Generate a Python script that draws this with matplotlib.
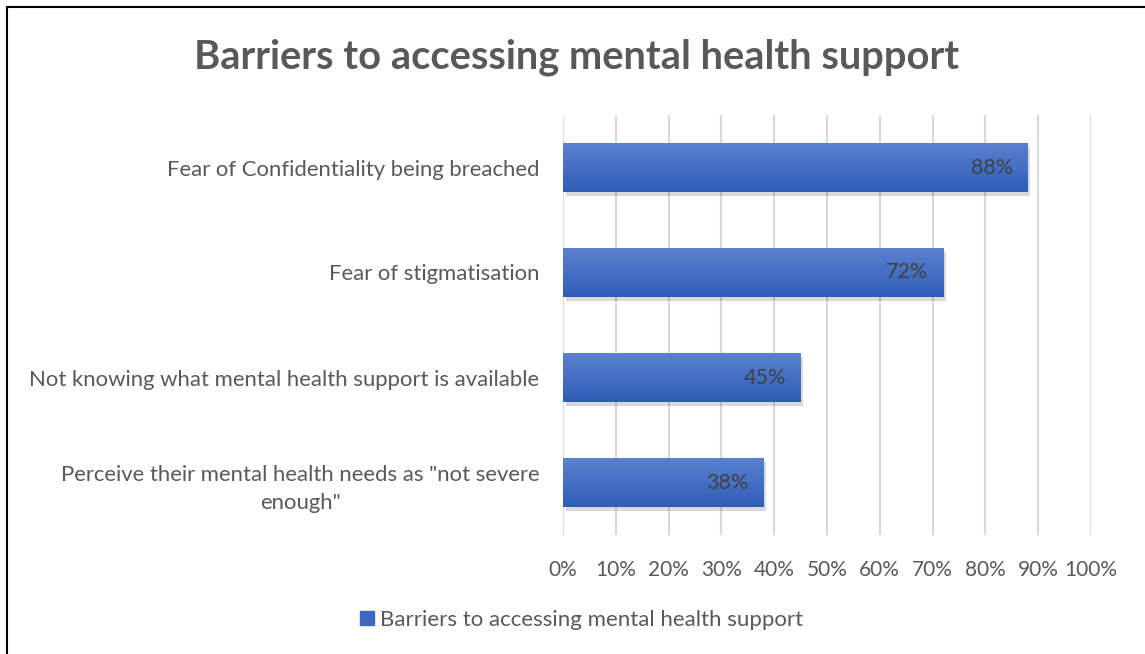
import matplotlib
matplotlib.use("Agg")
import matplotlib.pyplot as plt
import matplotlib.patches as mpatches
import matplotlib.patheffects as pe
import numpy as np

plt.rcParams['font.family'] = ['Lato', 'DejaVu Sans']

# Survey results (share of respondents)
categories = [
    'Fear of Confidentiality being breached',
    'Fear of stigmatisation',
    'Not knowing what mental health support is available',
    'Perceive their mental health needs as "not severe\nenough"',
]
values = [88, 72, 45, 38]
series_name = 'Barriers to accessing mental health support'
title = 'Barriers to accessing mental health support'

TEXT = '#595959'
BAR_TOP = '#5b82d0'
BAR_BOT = '#2f5db8'

fig = plt.figure(figsize=(11.45, 6.54), dpi=100)
ax = fig.add_axes([563 / 1145, 1 - 535 / 654, (1091 - 563) / 1145, (535 - 115) / 654])

# outer chart border (runs off the right and bottom edges)
fig.add_artist(mpatches.Rectangle((7 / 1145, -0.01), 1.2, 1 - 7 / 654 + 0.01,
                                  transform=fig.transFigure, fill=False,
                                  edgecolor='black', linewidth=1.5))

y = np.arange(len(categories))
bars = ax.barh(y, values, height=0.47, color=BAR_BOT, zorder=2,
               path_effects=[pe.SimplePatchShadow(offset=(2, -3), shadow_rgbFace='#000000', alpha=0.15),
                             pe.Normal()])

# vertical gradient on each bar
grad = np.linspace(0, 1, 100).reshape(-1, 1)
cmap = matplotlib.colors.LinearSegmentedColormap.from_list('barfill', [BAR_TOP, BAR_BOT])
for b in bars:
    x0, y0 = b.get_x(), b.get_y()
    w, h = b.get_width(), b.get_height()
    im = ax.imshow(grad, cmap=cmap, aspect='auto', extent=(x0, x0 + w, y0 + h, y0),
                   origin='upper', zorder=3)
    im.set_clip_path(b)

for yi, v in zip(y, values):
    ax.text(v - 2.8, yi, f'{v}%', ha='right', va='center', fontsize=15.5,
            color='#404040', zorder=4)

ax.set_xlim(0, 100)
ax.set_ylim(len(categories) - 0.5, -0.5)
ax.set_xticks(np.arange(0, 101, 10))
ax.set_xticklabels([f'{t}%' for t in range(0, 101, 10)], fontsize=15)
ax.set_yticks(y)
ax.set_yticklabels(categories, multialignment='center', linespacing=1.55, fontsize=15.9)
ax.tick_params(axis='both', length=0, labelcolor=TEXT)
ax.tick_params(axis='x', pad=18)
ax.tick_params(axis='y', pad=17)
ax.grid(axis='x', color='#d9d9d9', linewidth=1.5, zorder=0)
ax.set_axisbelow(True)
for s in ax.spines.values():
    s.set_visible(False)

fig.text(577 / 1145, 1 - 57 / 654, title, ha='center', va='center',
         fontsize=28.7, fontweight='bold', color=TEXT)

handle = mpatches.Patch(color='#3d68c2', label=series_name)
fig.legend(handles=[handle], loc='center', bbox_to_anchor=(582 / 1145, 1 - 620 / 654),
           frameon=False, fontsize=16, labelcolor=TEXT, handlelength=0.6,
           handleheight=0.6, handletextpad=0.3)

fig.savefig('out.png', dpi=100)
